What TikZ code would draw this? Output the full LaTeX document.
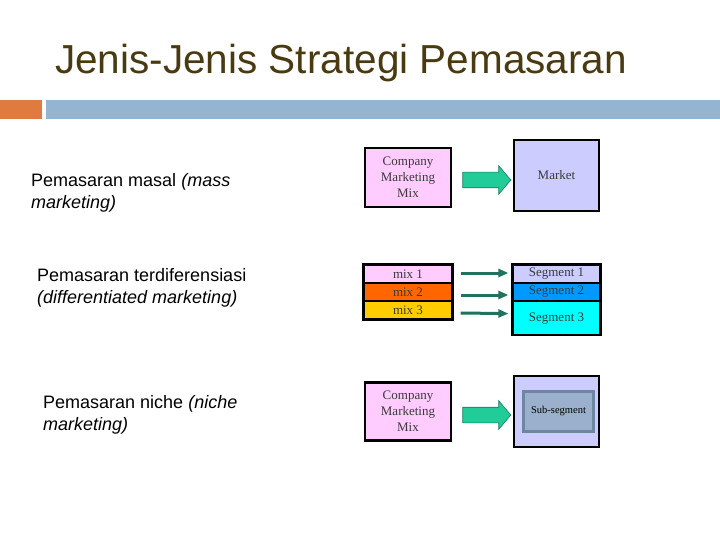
\documentclass[tikz,border=0pt]{standalone}
\usepackage{fontspec}
\setmainfont{Liberation Sans}
\newfontfamily\serifd{Liberation Serif}
\usetikzlibrary{shapes.arrows,arrows.meta,calc}
\definecolor{titlecol}{HTML}{4A3A12}
\definecolor{barorange}{HTML}{E07B40}
\definecolor{barblue}{HTML}{94B4D2}
\definecolor{pinkc}{HTML}{FFCCFF}
\definecolor{lavc}{HTML}{CCCCFF}
\definecolor{orc}{HTML}{FF6600}
\definecolor{goldc}{HTML}{FFCC00}
\definecolor{bluec}{HTML}{0099FF}
\definecolor{cyanc}{HTML}{00FFFF}
\definecolor{greenc}{HTML}{22CC99}
\definecolor{thinc}{HTML}{2FAF8F}
\definecolor{subc}{HTML}{9AB0CC}
\definecolor{subb}{HTML}{6F86A0}
\definecolor{txtd}{HTML}{3A3A3A}
\tikzset{
  box/.style={draw=black, line width=2.2pt, inner sep=0pt, font=\serifd\fontsize{13}{16}\selectfont, text=txtd, align=center},
  cell/.style={draw=black, line width=1.2pt, inner sep=0pt, font=\serifd\fontsize{13}{13}\selectfont, text=txtd},
  bigarrow/.style={single arrow, draw=greenc!60!black, line width=0.6pt, fill=greenc, minimum height=48pt, inner xsep=0pt, inner ysep=7.5pt, single arrow head extend=6.5pt, single arrow tip angle=100},
  thinarrow/.style={draw=thinc!65!black, line width=3pt, -{Triangle[length=10pt,width=8pt,fill=thinc]}},
  lefttxt/.style={anchor=north west, align=left, font=\fontsize{18}{22}\selectfont, inner sep=0pt}
}
\begin{document}
\begin{tikzpicture}[x=1pt,y=-1pt]
\useasboundingbox (0,0) rectangle (720,540);
\node[anchor=base west, text=titlecol, font=\fontsize{40.5}{44}\selectfont, inner sep=0pt] (title) at (55,74) {Jenis-Jenis Strategi Pemasaran};
\fill[barorange] (0,100) rectangle (42,119);
\fill[barblue] (46,100) rectangle (720,119);
% left texts
\node[lefttxt] (t1) at (31,173) {Pemasaran masal \textit{(mass}\\\textit{marketing)}};
\node[lefttxt] (t2) at (37,268) {Pemasaran terdiferensiasi\\\textit{(differentiated marketing)}};
\node[lefttxt] (t3) at (43,395) {Pemasaran niche \textit{(niche}\\\textit{marketing)}};
% diagram 1
\node[box, fill=pinkc, minimum width=86pt, minimum height=59pt] (cm1) at (408,177.5) {Company\\Marketing\\Mix};
\node[box, fill=lavc, minimum width=85pt, minimum height=71pt] (mk1) at (556.5,175.5) {Market};
\node[bigarrow] (a1) at (483.5,180) {};
% diagram 2
\node[cell, fill=pinkc, minimum width=88pt, minimum height=18pt] (m1) at (408,274) {mix 1};
\node[cell, fill=orc, minimum width=88pt, minimum height=18pt] (m2) at (408,292) {mix 2};
\node[cell, fill=goldc, minimum width=88pt, minimum height=18pt] (m3) at (408,310) {mix 3};
\draw[black, line width=2.2pt] (m1.north west) rectangle (m3.south east);
\node[cell, fill=lavc, minimum width=87pt, minimum height=18pt] (s1) at (556.5,274) {Segment 1};
\node[cell, fill=bluec, minimum width=87pt, minimum height=18pt] (s2) at (556.5,292) {Segment 2};
\node[cell, fill=cyanc, minimum width=87pt, minimum height=33pt, anchor=north] (s3) at (556.5,301) {Segment 3};
\draw[black, line width=2.2pt] (s1.north west) rectangle (s3.south east);
\draw[thinarrow] ($(m1.east)+(8,-1)$) -- ($(s1.west)+(-4,-1)$);
\draw[thinarrow] ($(m2.east)+(8,3)$) -- ($(s2.west)+(-4,3)$);
\draw[thinarrow] ($(m3.east)+(8,3)$) -- ($(s3.west)+(-4,-4.5)$);
% diagram 3
\node[box, fill=pinkc, minimum width=86pt, minimum height=58pt] (cm3) at (408,411.5) {Company\\Marketing\\Mix};
\node[box, fill=lavc, minimum width=85pt, minimum height=71pt] (mk3) at (556.5,411.5) {};
\node[draw=subb, line width=3pt, fill=subc, minimum width=70pt, minimum height=40pt, inner sep=0pt, font=\serifd\fontsize{10.5}{11}\selectfont, text=black] (sub) at (558.5,411) {Sub-segment};
\node[bigarrow] (a3) at (483.5,415) {};
\end{tikzpicture}
\end{document}
